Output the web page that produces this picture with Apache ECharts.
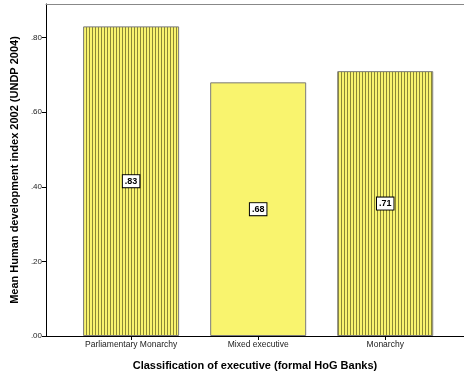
<!DOCTYPE html>
<html>
<head>
<meta charset="utf-8">
<script src="https://cdn.jsdelivr.net/npm/echarts@6/dist/echarts.min.js"></script>
<style>
  html, body { margin: 0; padding: 0; background: #fff; }
  #chart { width: 464px; height: 378px; }
</style>
</head>
<body>
<div id="chart"></div>
<script>
// Executive classification categories and mean HDI 2002 values
var categories = ['Parliamentary Monarchy', 'Mixed executive', 'Monarchy'];
var meanHDI = [0.83, 0.68, 0.71];
var striped = [true, false, true];
var yTicks = [0, 0.2, 0.4, 0.6, 0.8];
var catIndex = [0, 1, 2];

var FONT = '"Liberation Sans", Arial, sans-serif';
var YELLOW = '#f9f46e';
var STRIPE = '#8a8736';

// Vertical hatch pattern: 2px yellow, 1px olive
function makeStripePattern() {
  var c = document.createElement('canvas');
  c.width = 3; c.height = 4;
  var ctx = c.getContext('2d');
  ctx.fillStyle = YELLOW;
  ctx.fillRect(0, 0, 3, 4);
  ctx.fillStyle = STRIPE;
  ctx.fillRect(2, 0, 1, 4);
  return c;
}
var pattern = { image: makeStripePattern(), repeat: 'repeat' };

function fmtDec(v) {
  return v.toFixed(2).replace(/^0/, '');
}

var barData = catIndex.map(function (i) {
  return {
    value: [i, meanHDI[i]],
    itemStyle: { color: striped[i] ? pattern : YELLOW }
  };
});

var chart = echarts.init(document.getElementById('chart'), null, { renderer: 'canvas' });
chart.setOption({
  animation: false,
  backgroundColor: '#ffffff',
  grid: { left: 46, right: 0, top: 4, bottom: 42, outerBoundsMode: 'none', containLabel: false },
  xAxis: [{
    type: 'value',
    min: -0.67,
    max: 2.62,
    name: 'Classification of executive (formal HoG Banks)',
    nameLocation: 'middle',
    nameGap: 24,
    nameTextStyle: { fontFamily: FONT, fontWeight: 'bold', fontSize: 11, color: '#000' },
    splitLine: { show: false },
    axisLine: { show: true, lineStyle: { color: '#000', width: 1 } },
    axisTick: { show: true, length: 4, customValues: catIndex, lineStyle: { color: '#000' } },
    axisLabel: {
      customValues: catIndex,
      formatter: function (v) { return categories[Math.round(v)] || ''; },
      fontFamily: FONT, fontSize: 8.5, color: '#222', margin: 4
    }
  }, {
    type: 'value',
    position: 'top',
    min: -0.67,
    max: 2.62,
    splitLine: { show: false },
    axisLine: { show: true, onZero: false, lineStyle: { color: '#888', width: 1 } },
    axisTick: { show: false },
    axisLabel: { show: false }
  }],
  yAxis: {
    type: 'value',
    min: 0,
    max: 0.89,
    name: 'Mean Human development index 2002 (UNDP 2004)',
    nameLocation: 'middle',
    nameGap: 26,
    nameTextStyle: { fontFamily: FONT, fontWeight: 'bold', fontSize: 11, color: '#000' },
    splitLine: { show: false },
    axisLine: { show: true, onZero: false, lineStyle: { color: '#000', width: 1 } },
    axisTick: { show: true, length: 4, customValues: yTicks, lineStyle: { color: '#000' } },
    axisLabel: {
      customValues: yTicks,
      formatter: fmtDec,
      fontFamily: FONT, fontSize: 8, color: '#222', margin: 4
    }
  },
  series: [{
    type: 'bar',
    xAxisIndex: 0,
    barWidth: 96,
    data: barData,
    itemStyle: { borderColor: '#7a7a7a', borderWidth: 1 },
    label: {
      show: true,
      position: 'inside',
      formatter: function (p) { return fmtDec(p.value[1]); },
      fontFamily: FONT,
      fontWeight: 'bold',
      fontSize: 9,
      color: '#000',
      backgroundColor: '#ffffff',
      borderColor: '#000',
      borderWidth: 1,
      padding: [2, 2, 1, 2]
    }
  }]
});
</script>
</body>
</html>
